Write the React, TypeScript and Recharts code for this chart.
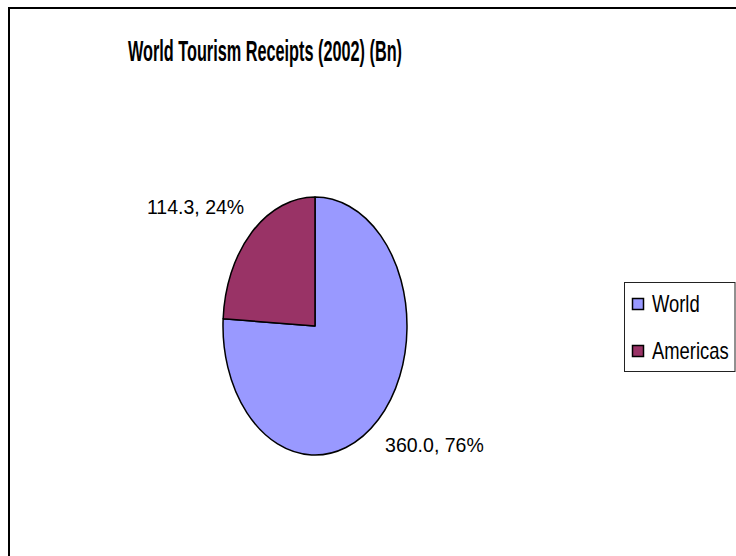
import { Legend, Pie, PieChart } from 'recharts';

const categories: string[] = ['World', 'Americas'];
const receipts: number[] = [360.0, 114.3];
const sliceColors: string[] = ['#9999FF', '#993366'];
const chartTitle = 'World Tourism Receipts (2002) (Bn)';

const data = categories.map((name, i) => ({
  name,
  value: receipts[i],
  fill: sliceColors[i],
}));

const FONT = '"Liberation Sans", Arial, sans-serif';
// the pie is drawn squashed: horizontal radius vs vertical radius
const RX_RATIO = 92 / 129;
const RAD = Math.PI / 180;

function EllipseSlice(props: any) {
  const { cx, cy, outerRadius, startAngle, endAngle, fill } = props;
  const ry = outerRadius;
  const rx = outerRadius * RX_RATIO;
  const x0 = cx + rx * Math.cos(startAngle * RAD);
  const y0 = cy - ry * Math.sin(startAngle * RAD);
  const x1 = cx + rx * Math.cos(endAngle * RAD);
  const y1 = cy - ry * Math.sin(endAngle * RAD);
  const large = Math.abs(endAngle - startAngle) > 180 ? 1 : 0;
  const sweep = endAngle < startAngle ? 1 : 0;
  const d = `M${cx},${cy} L${x0},${y0} A${rx},${ry} 0 ${large} ${sweep} ${x1},${y1} Z`;
  return (
    <path d={d} fill={fill} stroke="#000" strokeWidth={1.5} strokeLinejoin="round" />
  );
}

function SliceLabel(props: any) {
  const { cx, cy, midAngle, outerRadius, percent, value } = props;
  const x = cx + Math.cos(midAngle * RAD) * outerRadius * RX_RATIO * 1.89;
  const y = cy - Math.sin(midAngle * RAD) * outerRadius * 1.27;
  return (
    <text
      x={x}
      y={y + 7}
      textAnchor="middle"
      fontFamily={FONT}
      fontSize={19.5}
      fill="#000"
    >
      {`${Number(value).toFixed(1)}, ${Math.round(percent * 100)}%`}
    </text>
  );
}

function LegendBox({ payload }: any) {
  const items = [...(payload ?? [])].sort(
    (a: any, b: any) => categories.indexOf(a.value) - categories.indexOf(b.value),
  );
  return (
    <svg width={112} height={90} style={{ display: 'block' }}>
      <rect x={0.5} y={0.5} width={110.5} height={89} fill="#fff" stroke="#222" />
      {items.map((entry: any, i: number) => (
        <g key={entry.value}>
          <rect
            x={8.5}
            y={16.5 + i * 47}
            width={11}
            height={11}
            fill={entry.color}
            stroke="#000"
            strokeWidth={1.5}
          />
          <text
            transform={`translate(28, ${30 + i * 47}) scale(0.8, 1)`}
            fontFamily={FONT}
            fontSize={23}
            fill="#000"
          >
            {entry.value}
          </text>
        </g>
      ))}
    </svg>
  );
}

export default function App() {
  return (
    <div
      style={{
        position: 'absolute',
        left: 0,
        top: 0,
        width: 736,
        height: 556,
        overflow: 'hidden',
        background: '#fff',
      }}
    >
      <svg
        width={736}
        height={556}
        style={{ position: 'absolute', left: 0, top: 0 }}
      >
        <path d="M9,560 L9,8 L740,8" fill="none" stroke="#000" strokeWidth={2} />
        <text
          x={128}
          y={61}
          fontFamily={FONT}
          fontWeight="bold"
          fontSize={30}
          textLength={274}
          lengthAdjust="spacingAndGlyphs"
          fill="#000"
        >
          {chartTitle}
        </text>
      </svg>
      <PieChart width={736} height={556} margin={{ top: 0, right: 0, bottom: 0, left: 0 }}>
        <Pie
          data={data}
          dataKey="value"
          nameKey="name"
          cx={315}
          cy={326}
          outerRadius={129}
          startAngle={90}
          endAngle={-270}
          shape={EllipseSlice}
          inactiveShape={EllipseSlice}
          label={SliceLabel}
          labelLine={false}
          isAnimationActive={false}
        />
        <Legend
          layout="vertical"
          align="right"
          verticalAlign="middle"
          content={LegendBox}
          wrapperStyle={{ left: 624, top: 282, width: 112, height: 90 }}
        />
      </PieChart>
    </div>
  );
}
